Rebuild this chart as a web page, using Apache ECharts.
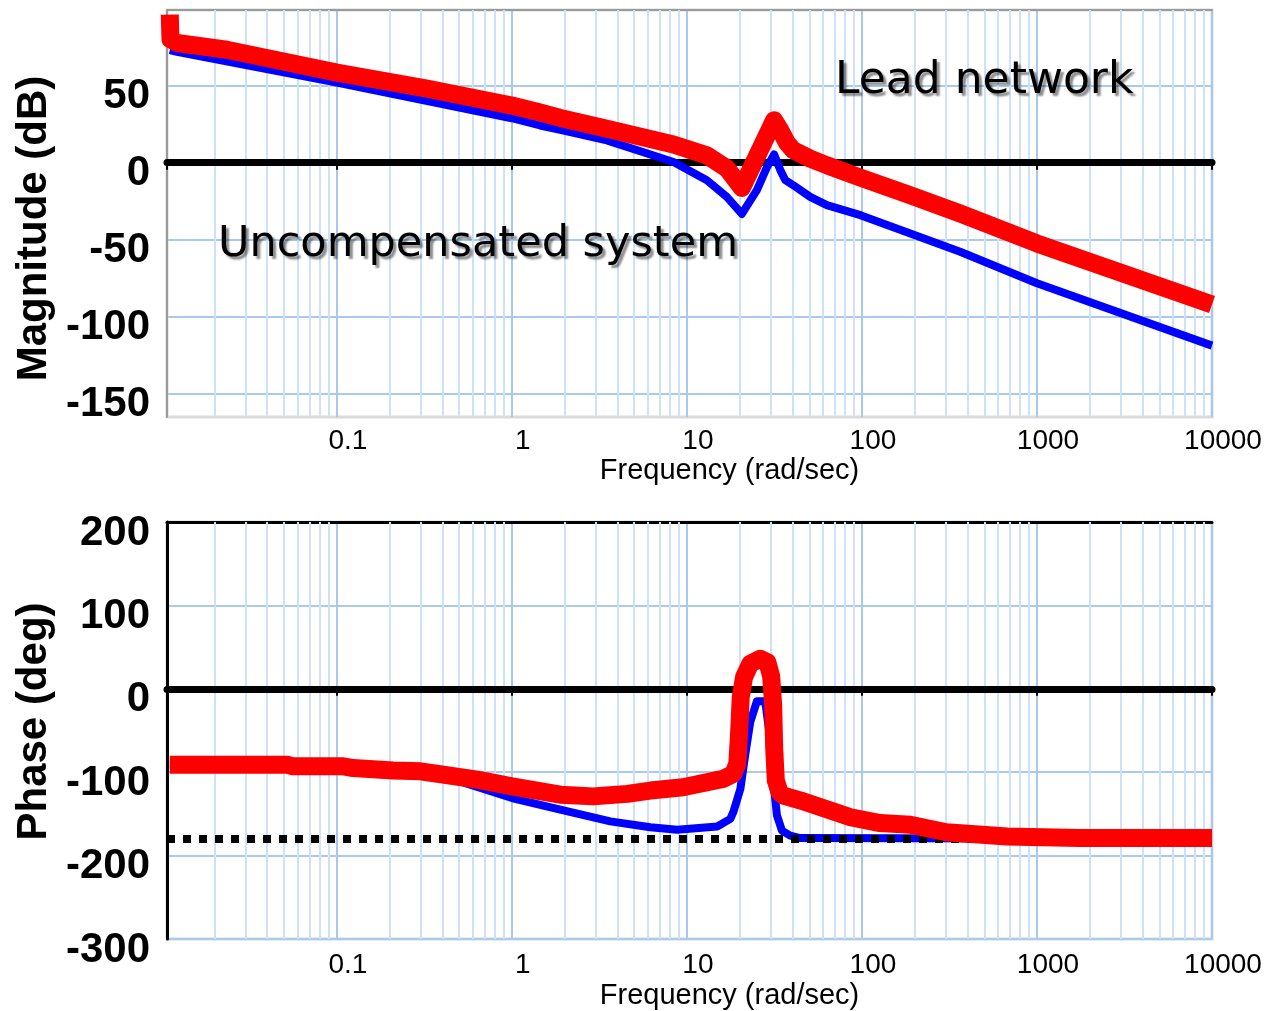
<!DOCTYPE html>
<html>
<head>
<meta charset="utf-8">
<title>Lead network - Bode plot</title>
<script src="https://cdn.jsdelivr.net/npm/echarts@6/dist/echarts.min.js"></script>
<style>
  html, body { margin: 0; padding: 0; background: #fff; }
  #chart { width: 1273px; height: 1011px; }
</style>
</head>
<body>
<div id="chart"></div>
<script>
// frequency range shared by both plots (rad/sec)
const freqMin = 0.0107
const freqMax = 10000
const gridDecades = [0.01, 0.1, 1, 10, 100, 1000]

// magnitude (dB), uncompensated system
const magUncompFreq = [0.0111, 0.0122, 0.1, 1, 1.45, 1.89, 3.49, 8.38, 13, 16.9, 20.6, 25.1, 28.7, 31.5,
  34.2, 36.5, 40.6, 50.6, 63, 98, 189, 364, 1000, 10000]
const magUncompDb = [73, 71.9, 51.9, 28.8, 24.1, 21.3, 14.4, 0.4, -11.4, -22.2, -33.3, -17.9, -2.8, 5.3,
  -5, -11.4, -14.7, -22.2, -27.6, -34.1, -45.9, -57.8, -78.2, -118.7]

// magnitude (dB), with lead network
const magLeadFreq = [0.0111, 0.0112, 0.0122, 0.0235, 0.1, 0.327, 1, 1.45, 1.89, 3.49, 8.38, 13, 16.9, 20.6,
  31.5, 34.2, 37.3, 40.6, 50.6, 63, 98, 189, 364, 1000, 10000]
const magLeadDb = [96, 80, 77.6, 73.2, 58.4, 48, 37, 32.5, 29, 22, 11.8, 4.7, -3.7, -16.4,
  27.5, 20.9, 12.8, 8, 2.6, -1.7, -9.7, -21.1, -33, -52.4, -92]

// phase (deg), uncompensated system
const phaseUncompFreq = [0.0111, 0.0518, 0.109, 0.209, 0.3, 0.405, 0.506, 1, 1.89, 3.65, 6.18, 8.8, 14.9,
  17.7, 18.4, 20.2, 21.5, 23, 25.1, 28, 29.9, 31.1, 32.7, 34.9, 38.9, 44.4, 10000]
const phaseUncompDeg = [-91, -91, -93, -98, -100, -105, -111, -131, -145, -159, -166, -169, -165,
  -156, -148, -120, -80, -40, -15, -15, -60, -108, -152, -170, -176, -179, -180]

// phase (deg), with lead network
const phaseLeadFreq = [0.0111, 0.0518, 0.0561, 0.109, 0.124, 0.209, 0.3, 0.405, 0.633, 1, 1.89, 2.91, 4.56,
  6.18, 9.5, 16.1, 18.4, 19.4, 19.9, 20.3, 21.2, 23, 26.2, 28.8, 30.3, 31.1, 31.5, 32.2, 33.8, 35.6,
  44.7, 86, 127, 189, 303, 675, 1750, 10000]
const phaseLeadDeg = [-91, -91, -93, -93, -95, -98, -99, -103, -109, -117, -127, -129, -126,
  -122, -118, -108, -102, -90, -50, -10, 14, 30, 36, 32, 15, -20, -70, -110, -124, -128,
  -134, -154, -161, -163, -172, -177, -179, -179]

const magTicks = [-150, -100, -50, 0, 50]
const phaseRefDeg = -180

const font = 'Liberation Sans, Arial, sans-serif'
const noteFont = '"DejaVu Sans", sans-serif'

const zip = (xs, ys) => xs.map((x, i) => [x, ys[i]])

// light vertical lines at 2..9 of every decade
const minorGrid = []
gridDecades.forEach((d) => {
  for (let k = 2; k <= 9; k += 1) {
    const v = +(k * d).toPrecision(3)
    if (v > freqMin && v < freqMax) minorGrid.push({ xAxis: v })
  }
})

function freqAxes(gridIndex, frameColor, frameWidth, nameGap, labelMargin) {
  const common = { type: 'log', gridIndex, min: freqMin, max: freqMax }
  return [
    {
      ...common,
      position: 'bottom',
      axisLine: { show: false, onZero: false },
      axisTick: { show: false },
      axisLabel: {
        showMinLabel: false,
        fontFamily: font,
        fontSize: 28,
        color: '#000',
        margin: labelMargin,
        padding: [0, 0, 0, 22],
        formatter: (v) => String(+Number(v).toPrecision(6)),
      },
      splitLine: { show: true, lineStyle: { color: '#a9c8ec', width: 2 } },
      name: 'Frequency (rad/sec)',
      nameLocation: 'middle',
      nameGap,
      nameTextStyle: { fontFamily: font, fontSize: 29, color: '#000', padding: [0, 0, 0, 80] },
    },
    {
      // thick black line at zero with small decade ticks
      ...common,
      position: 'bottom',
      z: 2,
      axisLine: { show: true, onZero: true, lineStyle: { color: '#000', width: 7 } },
      axisTick: { show: true, length: 7, lineStyle: { color: '#000', width: 2 } },
      axisLabel: { show: false },
      splitLine: { show: false },
    },
    {
      // top edge of the frame
      ...common,
      position: 'top',
      axisLine: { show: true, onZero: false, lineStyle: { color: frameColor, width: frameWidth } },
      axisTick: { show: false },
      axisLabel: { show: false },
      splitLine: { show: false },
    },
  ]
}

// labels sit a little below their grid lines, as in the original
const valueLabel = {
  fontFamily: font,
  fontSize: 42,
  fontWeight: 'bold',
  color: '#000',
  margin: 17,
  verticalAlign: 'top',
  lineHeight: 22,
}

function valueAxis(gridIndex, name, namePad, extra) {
  return {
    type: 'value',
    gridIndex,
    axisTick: { show: false },
    axisLabel: valueLabel,
    splitLine: { show: true, lineStyle: { color: '#a9c9ee', width: 2 } },
    name,
    nameLocation: 'middle',
    nameGap: 108,
    nameTextStyle: { fontFamily: font, fontSize: 42, fontWeight: 'bold', color: '#000', padding: namePad },
    ...extra,
  }
}

const gridMarkLine = {
  silent: true,
  symbol: 'none',
  z: 1,
  animation: false,
  label: { show: false },
  lineStyle: { color: '#cfe1f6', width: 2, type: 'solid' },
  data: minorGrid,
}

const chart = echarts.init(document.getElementById('chart'))

const option = {
  animation: false,
  backgroundColor: '#fff',
  grid: [
    { left: 167, top: 10, width: 1045, height: 407, show: true, borderColor: '#dadada', borderWidth: 3 },
    { left: 167, top: 522, width: 1045, height: 418, show: true, borderColor: '#dadada', borderWidth: 3 },
  ],
  xAxis: [
    ...freqAxes(0, '#9a9a9a', 2, 39, 10),
    ...freqAxes(1, '#000', 3, 42, 12),
  ],
  yAxis: [
    valueAxis(0, 'Magnitude (dB)', [0, 30, 0, 0], {
      min: -165,
      max: 99,
      axisLine: { show: true, onZero: false, lineStyle: { color: '#9a9a9a', width: 2 } },
      axisLabel: { ...valueLabel, customValues: magTicks },
      axisTick: { show: false, customValues: magTicks },
    }),
    valueAxis(1, 'Phase (deg)', [0, 0, 0, 18], {
      min: -300,
      max: 200,
      interval: 100,
      axisLine: { show: true, onZero: false, lineStyle: { color: '#000', width: 3 } },
    }),
  ],
  graphic: [
    {
      type: 'text',
      x: 835,
      y: 82,
      style: {
        text: 'Lead network',
        font: '44px ' + noteFont,
        fill: '#000',
        align: 'left',
        verticalAlign: 'middle',
        textShadowColor: 'rgba(0,0,0,0.45)',
        textShadowBlur: 2,
        textShadowOffsetX: 3,
        textShadowOffsetY: 3,
      },
      z: 10,
    },
    {
      type: 'text',
      x: 218,
      y: 245,
      style: {
        text: 'Uncompensated system',
        font: '43px ' + noteFont,
        fill: '#000',
        align: 'left',
        verticalAlign: 'middle',
        textShadowColor: 'rgba(0,0,0,0.45)',
        textShadowBlur: 2,
        textShadowOffsetX: 3,
        textShadowOffsetY: 3,
      },
      z: 10,
    },
  ],
  series: [
    {
      name: 'Uncompensated magnitude',
      type: 'line',
      xAxisIndex: 0,
      yAxisIndex: 0,
      data: zip(magUncompFreq, magUncompDb),
      showSymbol: false,
      symbol: 'none',
      z: 3,
      lineStyle: { color: '#0000ff', width: 8, join: 'round' },
    },
    {
      name: 'Lead network magnitude',
      type: 'line',
      xAxisIndex: 0,
      yAxisIndex: 0,
      data: zip(magLeadFreq, magLeadDb),
      showSymbol: false,
      symbol: 'none',
      z: 6,
      lineStyle: { color: '#ff0000', width: 18, join: 'round' },
      markLine: gridMarkLine,
    },
    {
      name: 'Uncompensated phase',
      type: 'line',
      xAxisIndex: 3,
      yAxisIndex: 1,
      data: zip(phaseUncompFreq, phaseUncompDeg),
      showSymbol: false,
      symbol: 'none',
      z: 3,
      lineStyle: { color: '#0000ff', width: 8, join: 'round' },
      markLine: {
        silent: true,
        symbol: 'none',
        z: 5,
        animation: false,
        label: { show: false },
        lineStyle: { color: '#000', width: 8, type: [8, 8] },
        data: [{ yAxis: phaseRefDeg }],
      },
    },
    {
      name: 'Lead network phase',
      type: 'line',
      xAxisIndex: 3,
      yAxisIndex: 1,
      data: zip(phaseLeadFreq, phaseLeadDeg),
      showSymbol: false,
      symbol: 'none',
      z: 6,
      lineStyle: { color: '#ff0000', width: 18, join: 'round' },
      markLine: gridMarkLine,
    },
  ],
}

chart.setOption(option)
</script>
</body>
</html>
